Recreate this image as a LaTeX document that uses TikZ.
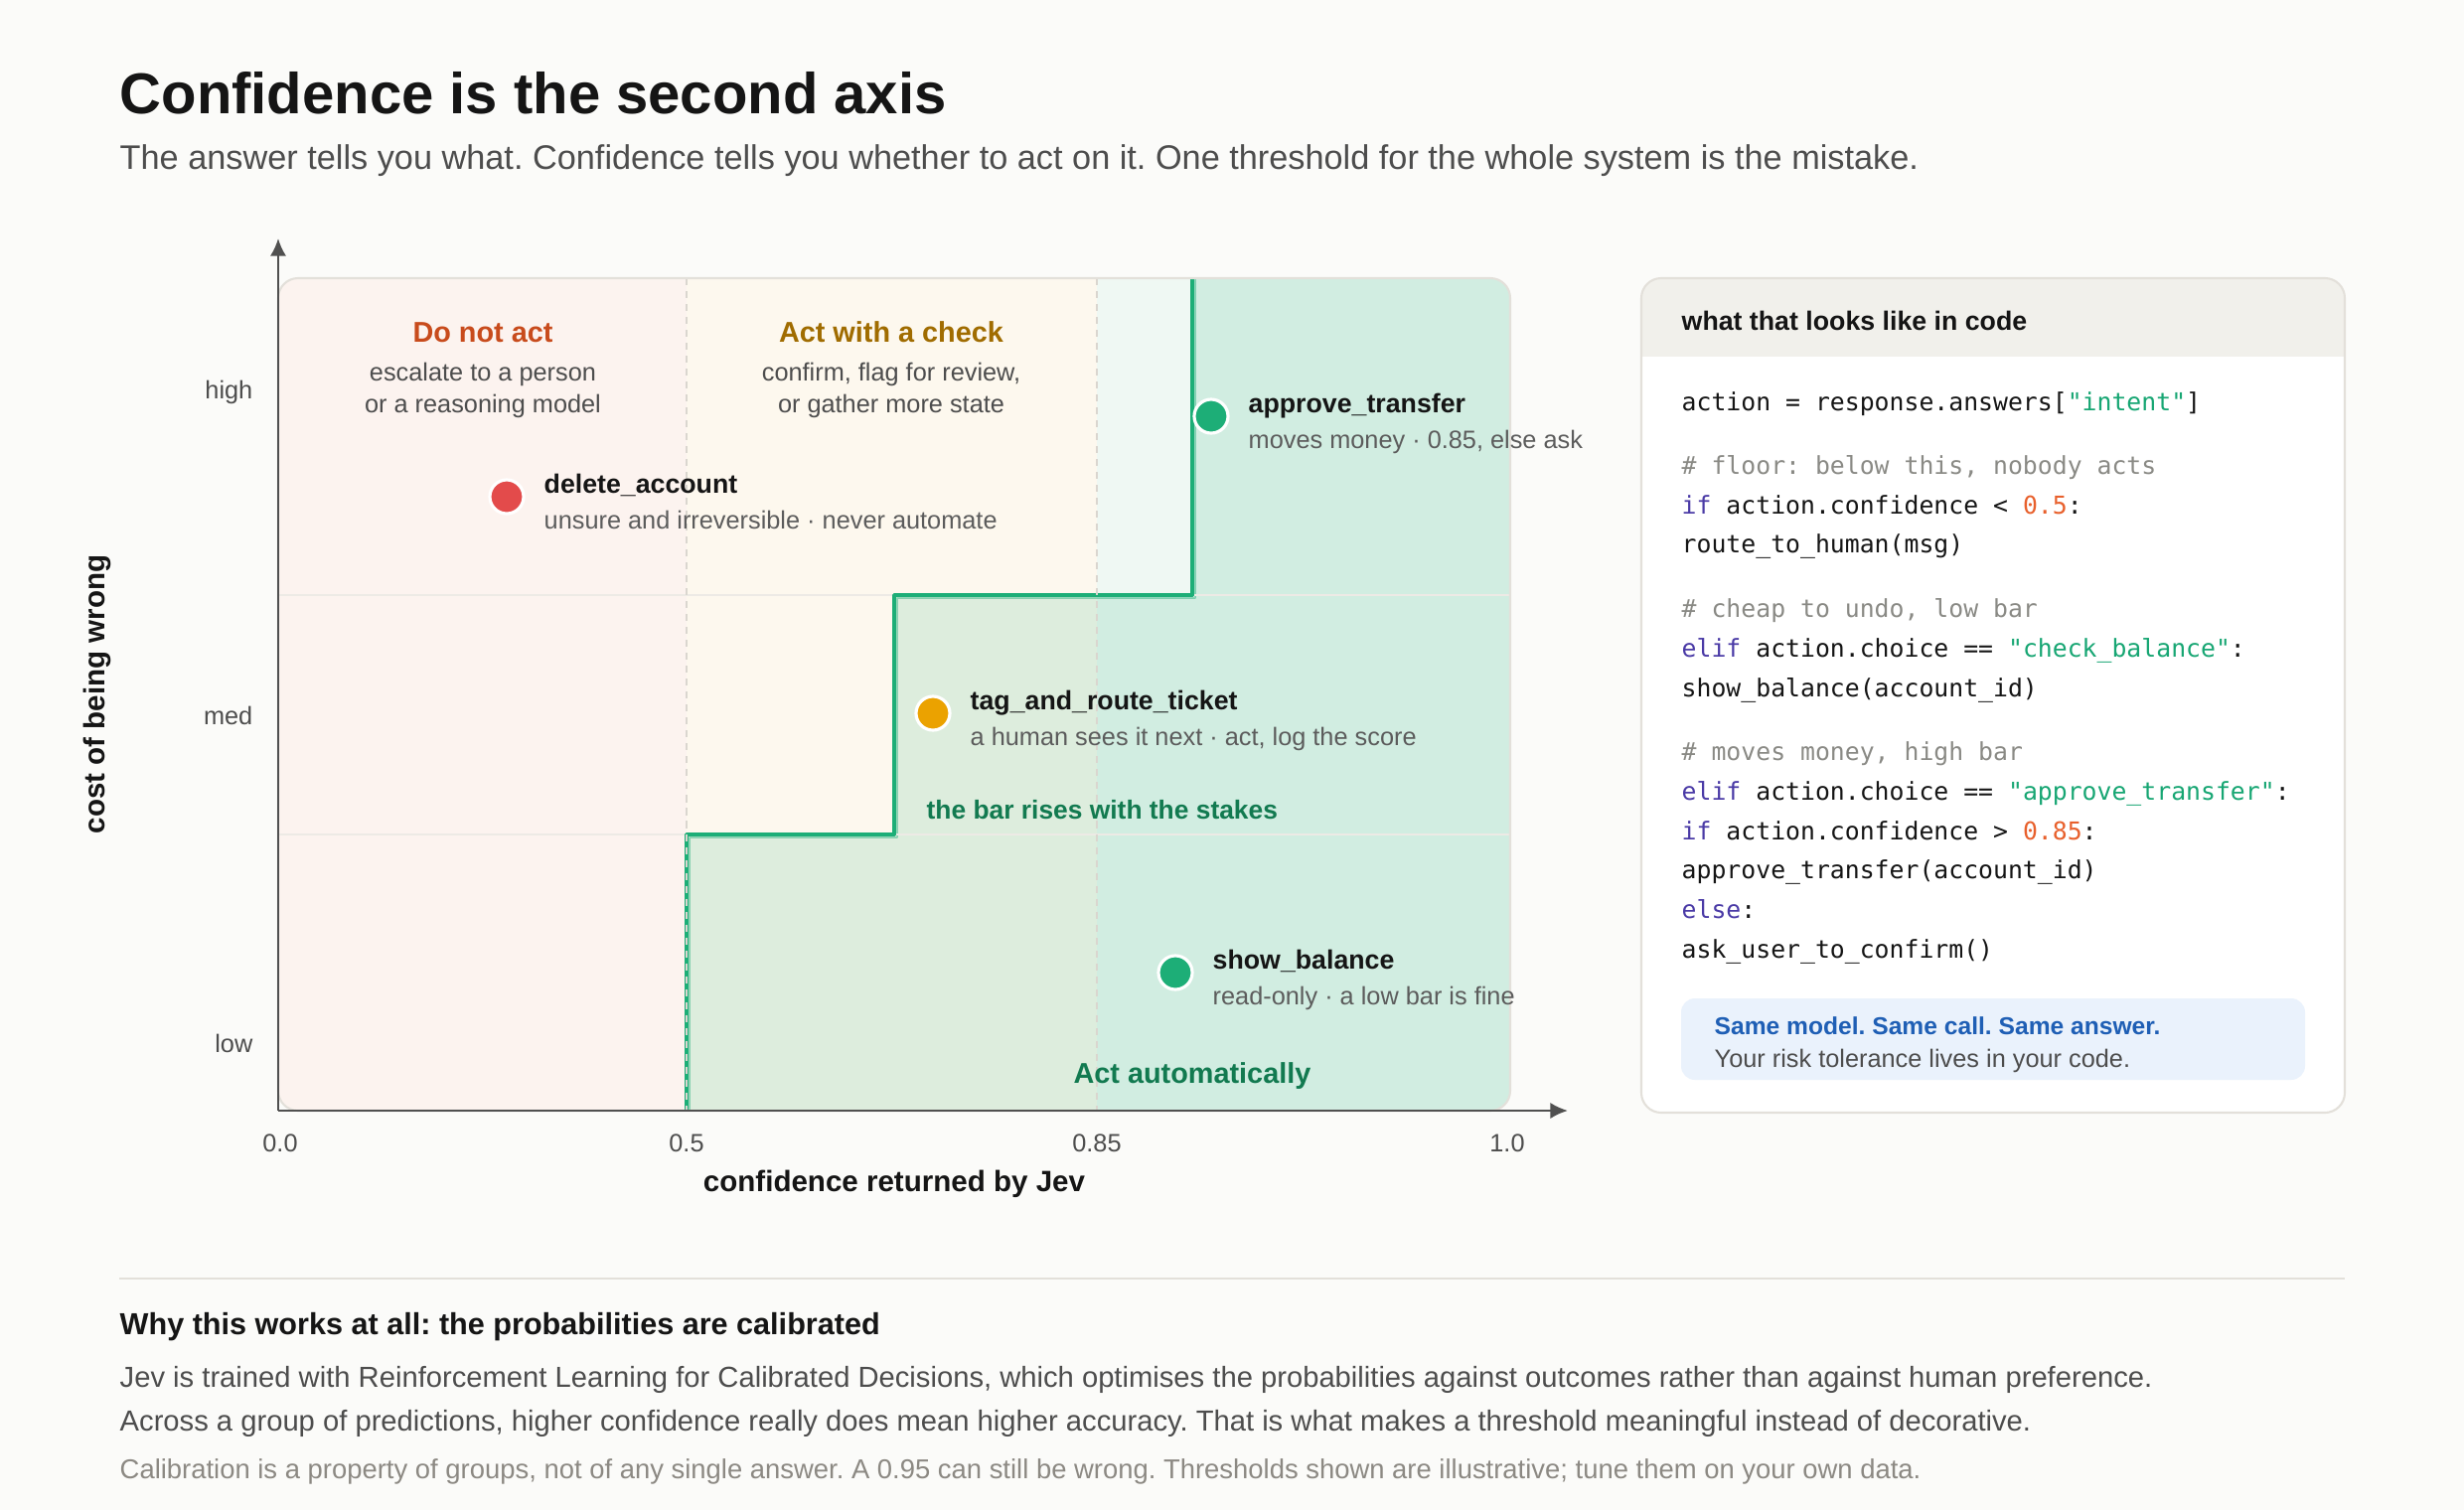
\documentclass[tikz,border=0pt]{standalone}
\usepackage{fontspec}
\setmainfont{Liberation Sans}
\setmonofont{DejaVu Sans Mono}
\usetikzlibrary{arrows.meta}
\frenchspacing
\newcommand{\fsz}[1]{\fontsize{#1pt}{#1pt}\selectfont}
\definecolor{paper}{HTML}{FBFBF9}
\definecolor{ink}{HTML}{151515}
\definecolor{grayink}{HTML}{4D4D4D}
\definecolor{subink}{HTML}{5C5C5C}
\definecolor{faint}{HTML}{8C8983}
\definecolor{pinkzone}{HTML}{FCF3EF}
\definecolor{creamzone}{HTML}{FDF8EE}
\definecolor{mintzone}{HTML}{EFF8F3}
\definecolor{jade}{HTML}{1DAE77}
\definecolor{jadetext}{HTML}{127A50}
\definecolor{rust}{HTML}{C84B1C}
\definecolor{ochre}{HTML}{A06C00}
\definecolor{dotred}{HTML}{E34B4B}
\definecolor{dotamber}{HTML}{EBA200}
\definecolor{frameline}{HTML}{E3E0DA}
\definecolor{gridline}{HTML}{EDEAE5}
\definecolor{dashline}{HTML}{DAD6CF}
\definecolor{axisink}{HTML}{505050}
\definecolor{headfill}{HTML}{F1F0EB}
\definecolor{notefill}{HTML}{EAF2FC}
\definecolor{noteblue}{HTML}{1F5FB5}
\definecolor{kw}{HTML}{4A3AA6}
\definecolor{str}{HTML}{17A673}
\definecolor{num}{HTML}{E8602C}
\definecolor{cmt}{HTML}{8A8A85}
\tikzset{
  txt/.style={inner sep=0pt, font=\fsz{7.2}, text=grayink},
  zonehead/.style={anchor=base, inner sep=0pt, font=\fsz{8.2}\bfseries},
  zonedesc/.style={txt, anchor=base},
  ylab/.style={txt, anchor=base east},
  tick/.style={txt, anchor=base},
  dot/.style={circle, inner sep=0pt, minimum size=0.34cm, draw=white, line width=0.9pt},
  lbl/.style={anchor=base west, inner sep=0pt, font=\fsz{7.6}\bfseries, text=ink},
  sublbl/.style={txt, anchor=base west, text=subink},
  code/.style={anchor=base west, inner sep=0pt, font=\ttfamily\fsz{7.05}, text=ink}
}
\begin{document}
\begin{tikzpicture}[x=0.01cm, y=-0.01cm, >={Latex[length=5pt,width=4.6pt]}, line join=round]
\fill[paper] (0,0) rectangle (2480,1520);
\useasboundingbox (0,0) rectangle (2480,1520);

\node[anchor=base west, inner sep=0pt, font=\fsz{16.5}\bfseries, text=ink] (title) at (120,114) {Confidence is the second axis};
\node[txt, anchor=base west, font=\fsz{9.75}] (subtitle) at (120,170) {The answer tells you what. Confidence tells you whether to act on it. One threshold for the whole system is the mistake.};

\begin{scope}
\clip[rounded corners=0.2cm] (280,280) rectangle (1520,1118);
\fill[pinkzone] (280,280) rectangle (691,1118);
\fill[creamzone] (691,280) rectangle (1104,1118);
\fill[mintzone] (1104,280) rectangle (1520,1118);
\filldraw[jade, fill opacity=0.14, draw opacity=0.45, line width=0.4pt] (694,1118) -- (694,843) -- (903,843) -- (903,602) -- (1203,602) -- (1203,280) -- (1520,280) -- (1520,1118) -- cycle;
\end{scope}
\draw[gridline, line width=0.6pt] (280,599) -- (1520,599) (280,840) -- (1520,840);
\draw[jade, line width=1.1pt] (691,1118) -- (691,840) -- (900,840) -- (900,599) -- (1200,599) -- (1200,280);
\draw[dashline, line width=0.45pt, dash pattern=on 2pt off 1.7pt] (691,280) -- (691,1118) (1104,280) -- (1104,1118);
\draw[frameline, line width=0.6pt, rounded corners=0.2cm] (280,280) rectangle (1520,1118);

\coordinate (O) at (280,1118);
\coordinate (ytop) at (280,240);
\coordinate (xend) at (1578,1118);
\draw[->, axisink, line width=0.7pt] (O) -- (ytop);
\draw[->, axisink, line width=0.7pt] (O) -- (xend);

\node[ylab] (high) at (255,401) {high};
\node[ylab] (med) at (255,729) {med};
\node[ylab] (low) at (255,1059) {low};
\node[tick] (t0) at (282,1159) {0.0};
\node[tick] (t5) at (691,1159) {0.5};
\node[tick] (t85) at (1104,1159) {0.85};
\node[tick] (t1) at (1517,1159) {1.0};
\node[anchor=base, inner sep=0pt, font=\fsz{8.4}\bfseries, text=ink] (xtitle) at (900,1199) {confidence returned by Jev};
\node[inner sep=0pt, font=\fsz{8.4}\bfseries, text=ink, rotate=90] (ytitle) at (98,699) {cost of being wrong};

\node[zonehead, text=rust] (noact) at (486,344) {Do not act};
\node[zonedesc] (noact1) at (486,383) {escalate to a person};
\node[zonedesc] (noact2) at (486,415) {or a reasoning model};
\node[zonehead, text=ochre] (check) at (897,344) {Act with a check};
\node[zonedesc] (check1) at (897,383) {confirm, flag for review,};
\node[zonedesc] (check2) at (897,415) {or gather more state};
\node[anchor=base west, inner sep=0pt, font=\fsz{7.5}\bfseries, text=jadetext] (stakes) at (932,824) {the bar rises with the stakes};
\node[zonehead, text=jadetext] (auto) at (1200,1090) {Act automatically};

\node[dot, fill=dotred] (del) at (510,500) {};
\node[lbl] (dellbl) at ([shift={(37,-4)}]del) {delete\_account};
\node[sublbl] (delsub) at ([shift={(37,32)}]del) {unsure and irreversible · never automate};
\node[dot, fill=jade] (appr) at (1219,419) {};
\node[lbl] (apprlbl) at ([shift={(37,-4)}]appr) {approve\_transfer};
\node[sublbl] (apprsub) at ([shift={(37,32)}]appr) {moves money · 0.85, else ask};
\node[dot, fill=dotamber] (tag) at (939,718) {};
\node[lbl] (taglbl) at ([shift={(37,-4)}]tag) {tag\_and\_route\_ticket};
\node[sublbl] (tagsub) at ([shift={(37,32)}]tag) {a human sees it next · act, log the score};
\node[dot, fill=jade] (show) at (1183,979) {};
\node[lbl] (showlbl) at ([shift={(37,-4)}]show) {show\_balance};
\node[sublbl] (showsub) at ([shift={(37,32)}]show) {read-only · a low bar is fine};

\begin{scope}
\clip[rounded corners=0.2cm] (1652,280) rectangle (2360,1120);
\fill[white] (1652,280) rectangle (2360,1120);
\fill[headfill] (1652,280) rectangle (2360,359);
\end{scope}
\draw[frameline, line width=0.6pt, rounded corners=0.2cm] (1652,280) rectangle (2360,1120);
\node[lbl] (codehead) at (1692,332) {what that looks like in code};
\node[code] (c1) at (1692,413) {action = response.answers[\textcolor{str}{"intent"}]};
\node[code] (c2) at (1692,477) {\textcolor{cmt}{\# floor: below this, nobody acts}};
\node[code] (c3) at (1692,517) {\textcolor{kw}{if} action.confidence < \textcolor{num}{0.5}:};
\node[code] (c4) at (1692,556) {route\_to\_human(msg)};
\node[code] (c5) at (1692,621) {\textcolor{cmt}{\# cheap to undo, low bar}};
\node[code] (c6) at (1692,661) {\textcolor{kw}{elif} action.choice == \textcolor{str}{"check\_balance"}:};
\node[code] (c7) at (1692,701) {show\_balance(account\_id)};
\node[code] (c8) at (1692,765) {\textcolor{cmt}{\# moves money, high bar}};
\node[code] (c9) at (1692,805) {\textcolor{kw}{elif} action.choice == \textcolor{str}{"approve\_transfer"}:};
\node[code] (c10) at (1692,845) {\textcolor{kw}{if} action.confidence > \textcolor{num}{0.85}:};
\node[code] (c11) at (1692,884) {approve\_transfer(account\_id)};
\node[code] (c12) at (1692,924) {\textcolor{kw}{else}:};
\node[code] (c13) at (1692,964) {ask\_user\_to\_confirm()};
\fill[notefill, rounded corners=0.14cm] (1692,1005) rectangle (2320,1087);
\node[anchor=base west, inner sep=0pt, font=\fsz{7.0}\bfseries, text=noteblue] (same) at (1725,1041) {Same model. Same call. Same answer.};
\node[txt, anchor=base west] (risk) at (1725,1074) {Your risk tolerance lives in your code.};

\draw[frameline, line width=0.6pt] (120,1287) -- (2360,1287);
\node[lbl, font=\fsz{8.7}\bfseries] (why) at (120,1343) {Why this works at all: the probabilities are calibrated};
\node[txt, anchor=base west, font=\fsz{8.3}] (para1) at (120,1396) {Jev is trained with Reinforcement Learning for Calibrated Decisions, which optimises the probabilities against outcomes rather than against human preference.};
\node[txt, anchor=base west, font=\fsz{8.3}] (para2) at (120,1440) {Across a group of predictions, higher confidence really does mean higher accuracy. That is what makes a threshold meaningful instead of decorative.};
\node[txt, anchor=base west, font=\fsz{7.8}, text=faint] (caveat) at (120,1488) {Calibration is a property of groups, not of any single answer. A 0.95 can still be wrong. Thresholds shown are illustrative; tune them on your own data.};
\end{tikzpicture}
\end{document}
